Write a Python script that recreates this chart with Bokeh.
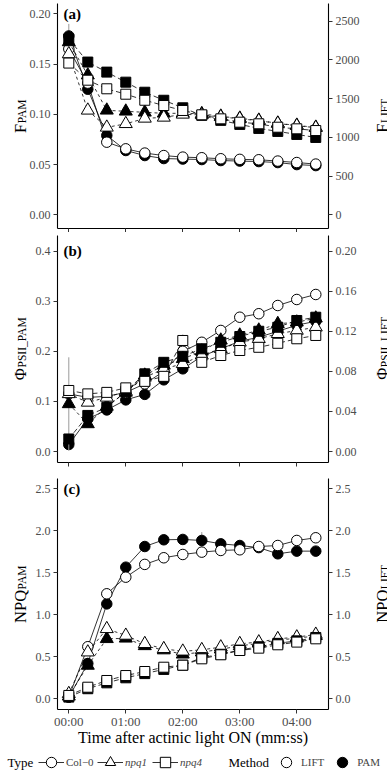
import numpy as np
from bokeh.plotting import figure
from bokeh.models import (Range1d, LinearAxis, FixedTicker, NumeralTickFormatter,
                          Label, Legend, LegendItem)
from bokeh.layouts import column
from bokeh.embed import file_html
from bokeh.resources import INLINE

# ---------------- data ----------------
time_s = [0, 20, 40, 60, 80, 100, 120, 140, 160, 180, 200, 220, 240, 260]
time_ticks = [0, 60, 120, 180, 240]
time_labels = ["00:00", "01:00", "02:00", "03:00", "04:00"]
types = ["Col-0", "npq1", "npq4"]
type_labels = ["Col\u22120", "npq1", "npq4"]
methods = ["LIFT", "PAM"]

# (a) F  (PAM on left axis, LIFT on right axis)
a_col0_pam = [0.178, 0.125, 0.079, 0.064, 0.059, 0.056, 0.0555, 0.055, 0.054, 0.0535, 0.053, 0.052, 0.050, 0.049]
a_npq1_pam = [0.172, 0.139, 0.104, 0.103, 0.102, 0.101, 0.101, 0.1005, 0.098, 0.096, 0.094, 0.091, 0.089, 0.087]
a_npq4_pam = [0.175, 0.152, 0.142, 0.132, 0.122, 0.114, 0.1065, 0.099, 0.094, 0.090, 0.086, 0.083, 0.080, 0.077]
a_col0_lift = [2141, 1700, 938, 852, 797, 765, 745, 737, 724, 716, 711, 694, 675, 655]
a_npq1_lift = [2076, 1349, 1129, 1175, 1245, 1258, 1297, 1290, 1265, 1240, 1215, 1180, 1150, 1125]
a_npq4_lift = [1959, 1738, 1627, 1557, 1479, 1411, 1347, 1291, 1239, 1196, 1175, 1131, 1110, 1088]
a_col0_pam_se = [0.012, 0, 0, 0, 0, 0, 0, 0, 0, 0, 0, 0, 0, 0]

# (b) PhiPSII
b_col0_pam = [0.014, 0.065, 0.083, 0.103, 0.114, 0.143, 0.165, 0.19, 0.205, 0.22, 0.228, 0.24, 0.252, 0.26]
b_npq1_pam = [0.095, 0.055, 0.09, 0.118, 0.152, 0.172, 0.185, 0.2, 0.222, 0.232, 0.242, 0.255, 0.258, 0.266]
b_npq4_pam = [0.025, 0.072, 0.088, 0.12, 0.155, 0.178, 0.19, 0.205, 0.218, 0.2295, 0.24, 0.248, 0.2615, 0.268]
b_col0_lift = [0.0575, 0.054, 0.055, 0.059, 0.0675, 0.08, 0.1, 0.109, 0.1208, 0.134, 0.1375, 0.1457, 0.1517, 0.1567]
b_npq1_lift = [0.0575, 0.049, 0.054, 0.06, 0.074, 0.0825, 0.0875, 0.096, 0.1025, 0.109, 0.1125, 0.1175, 0.1208, 0.124]
b_npq4_lift = [0.0609, 0.0575, 0.059, 0.0635, 0.07, 0.075, 0.1108, 0.089, 0.0958, 0.1008, 0.104, 0.108, 0.1125, 0.1158]
b_npq1_pam_se = [0.093, 0, 0, 0.01, 0, 0, 0, 0, 0, 0, 0, 0, 0, 0]
b_npq4_lift_se = [0, 0, 0, 0, 0, 0, 0.006, 0, 0, 0, 0, 0, 0, 0]

# (c) NPQ
c_col0_pam = [0.02, 0.42, 1.13, 1.567, 1.813, 1.893, 1.897, 1.885, 1.845, 1.825, 1.80, 1.726, 1.758, 1.758]
c_npq1_pam = [0.03, 0.397, 0.714, 0.72, 0.63, 0.58, 0.53, 0.555, 0.59, 0.63, 0.66, 0.70, 0.72, 0.75]
c_npq4_pam = [0.02, 0.12, 0.19, 0.25, 0.30, 0.35, 0.40, 0.49, 0.53, 0.58, 0.62, 0.66, 0.69, 0.73]
c_col0_lift = [0.02, 0.62, 1.25, 1.448, 1.60, 1.679, 1.718, 1.746, 1.766, 1.774, 1.813, 1.825, 1.885, 1.917]
c_npq1_lift = [0.06, 0.555, 0.833, 0.754, 0.655, 0.595, 0.565, 0.583, 0.615, 0.655, 0.675, 0.714, 0.734, 0.766]
c_npq4_lift = [0.04, 0.138, 0.218, 0.277, 0.325, 0.376, 0.40, 0.476, 0.524, 0.575, 0.603, 0.643, 0.675, 0.714]
c_col0_pam_se = [0, 0, 0, 0, 0, 0, 0, 0.1, 0, 0, 0, 0, 0, 0]

# axis ticks and panel value limits
a_left_ticks = [0.0, 0.05, 0.10, 0.15, 0.20]
a_right_ticks = [0, 500, 1000, 1500, 2000, 2500]
b_left_ticks = [0.0, 0.1, 0.2, 0.3, 0.4]
b_right_ticks = [0.0, 0.04, 0.08, 0.12, 0.16, 0.20]
c_ticks = [0.0, 0.5, 1.0, 1.5, 2.0, 2.5]
a_left_lim = (-0.0133, 0.210)
b_left_lim = (-0.021, 0.4311)
c_left_lim = (-0.127, 2.6226)
a_right_per_left = 12973.5     # F_LIFT units per F_PAM unit (secondary axis)
b_right_per_left = 0.5
c_right_per_left = 1.0

# ---------------- styling / layout ----------------
FONT = "Liberation Serif"
TICK_COL = "#4D4D4D"
W = 387
X_CANVAS = (-71.9, 335.5)        # time (s) at canvas left / right edge
T_LEFT, T_RIGHT = -11.9, 273.4   # time at panel left / right edge
TOPS = [0, 232, 470, 778]        # page rows of the three stacked figures

type_style = {
    "Col-0": dict(marker="circle", size=10.5, dash="solid"),
    "npq1": dict(marker="triangle", size=13, dash="3 3"),
    "npq4": dict(marker="square", size=10, dash="5 3"),
}
method_fill = {"LIFT": "white", "PAM": "black"}
NAN = [float("nan")]


def style_axis(ax, size="12px"):
    ax.axis_line_color = "black"
    ax.axis_line_width = 1.1
    ax.major_tick_line_color = "#333333"
    ax.major_tick_in = 0
    ax.major_tick_out = 4
    ax.minor_tick_line_color = None
    ax.major_label_text_font = FONT
    ax.major_label_text_font_size = size
    ax.major_label_text_color = TICK_COL
    ax.major_label_standoff = 3


def add_ytitle(p, main, sub, main_em, sub_em, fig_top, fig_h, center, x_main, x_sub):
    mw = main_em * 16.5
    sw = sub_em * 11.5
    c = center - fig_top
    y0 = fig_h - (c + (mw + sw) / 2)
    p.add_layout(Label(x=x_main, y=y0, x_units="screen", y_units="screen", text=main,
                       angle=np.pi / 2, text_font=FONT, text_font_size="16.5px",
                       text_color="black", text_align="left", text_baseline="alphabetic"))
    p.add_layout(Label(x=x_sub, y=y0 + mw + 0.5, x_units="screen", y_units="screen", text=sub,
                       angle=np.pi / 2, text_font=FONT, text_font_size="11.5px",
                       text_color="black", text_align="left", text_baseline="alphabetic"))


def make_panel(series, ses, top, bottom, zero_px, px_per_unit, left_lim, rpl,
               left_ticks, right_ticks, left_fmt, right_fmt, tag, titles, title_center, show_x):
    fig_h = bottom - top

    def val(page):
        return (zero_px - page) / px_per_unit

    left_canvas = (val(bottom), val(top))
    right_canvas = (left_canvas[0] * rpl, left_canvas[1] * rpl)
    left_b = (left_lim[0], min(left_lim[1], left_canvas[1]))
    right_b = (left_b[0] * rpl, left_b[1] * rpl)

    p = figure(width=W, height=fig_h, x_range=Range1d(*X_CANVAS),
               y_range=Range1d(*left_canvas), output_backend="svg", toolbar_location=None,
               min_border=0, x_axis_location=None, y_axis_location=None,
               outline_line_color=None, background_fill_color="white",
               border_fill_color="white")
    p.grid.visible = False
    p.extra_y_ranges = {"lift": Range1d(*right_canvas)}

    la = LinearAxis(fixed_location=T_LEFT, bounds=left_b,
                    ticker=FixedTicker(ticks=left_ticks),
                    formatter=NumeralTickFormatter(format=left_fmt))
    style_axis(la)
    p.add_layout(la, "left")

    ra = LinearAxis(y_range_name="lift", fixed_location=T_RIGHT, bounds=right_b,
                    ticker=FixedTicker(ticks=right_ticks),
                    formatter=NumeralTickFormatter(format=right_fmt))
    style_axis(ra)
    p.add_layout(ra, "right")

    xa = LinearAxis(fixed_location=left_b[0], bounds=(T_LEFT, T_RIGHT),
                    ticker=FixedTicker(ticks=time_ticks))
    style_axis(xa, "13px")
    if show_x:
        xa.major_label_overrides = {t: l for t, l in zip(time_ticks, time_labels)}
        xa.major_label_standoff = 1
        xa.axis_label = "Time after actinic light ON (mm:ss)"
        xa.axis_label_text_font = FONT
        xa.axis_label_text_font_size = "16px"
        xa.axis_label_text_font_style = "normal"
        xa.axis_label_text_color = "black"
        xa.axis_label_standoff = -4
    else:
        xa.major_label_text_color = None
        xa.major_label_text_font_size = "1px"
    p.add_layout(xa, "below")

    t = np.array(time_s, dtype=float)
    for tname in types:
        st = type_style[tname]
        for m in ["PAM", "LIFT"]:
            vals = np.array(series[(tname, m)], dtype=float)
            rname = "default" if m == "PAM" else "lift"
            se = ses.get((tname, m))
            if se is not None:
                se = np.array(se, dtype=float)
                mask = se > 0
                p.segment(x0=t[mask], x1=t[mask], y0=(vals - se)[mask], y1=(vals + se)[mask],
                          line_color="#9a9a9a", line_width=1, y_range_name=rname)
            p.line(t, vals, line_color="black", line_width=0.8, line_dash=st["dash"],
                   y_range_name=rname)
            p.scatter(t, vals, marker=st["marker"], size=st["size"],
                      fill_color=method_fill[m], line_color="black", line_width=1,
                      y_range_name=rname)

    p.add_layout(Label(x=63, x_units="screen", y=left_ticks[-1], y_units="data", text=tag,
                       text_font=FONT, text_font_style="bold", text_font_size="15px",
                       text_baseline="middle", text_color="black"))
    (lm, ls, lme, lse), (rm, rs, rme, rse) = titles
    add_ytitle(p, lm, ls, lme, lse, top, fig_h, title_center, 19.5, 21.5)
    add_ytitle(p, rm, rs, rme, rse, top, fig_h, title_center, 382, 384)
    return p


pa = make_panel(
    {("Col-0", "PAM"): a_col0_pam, ("npq1", "PAM"): a_npq1_pam, ("npq4", "PAM"): a_npq4_pam,
     ("Col-0", "LIFT"): a_col0_lift, ("npq1", "LIFT"): a_npq1_lift, ("npq4", "LIFT"): a_npq4_lift},
    {("Col-0", "PAM"): a_col0_pam_se}, TOPS[0], TOPS[1], 214.33, 1005.0, a_left_lim,
    a_right_per_left, a_left_ticks, a_right_ticks, "0.00", "0",
    "(a)", (("F", "PAM", 0.556, 2.167), ("F", "LIFT", 0.556, 2.111)), 115.5, False)

pb = make_panel(
    {("Col-0", "PAM"): b_col0_pam, ("npq1", "PAM"): b_npq1_pam, ("npq4", "PAM"): b_npq4_pam,
     ("Col-0", "LIFT"): b_col0_lift, ("npq1", "LIFT"): b_npq1_lift, ("npq4", "LIFT"): b_npq4_lift},
    {("npq1", "PAM"): b_npq1_pam_se, ("npq4", "LIFT"): b_npq4_lift_se}, TOPS[1], TOPS[2],
    451.0, 501.0, b_left_lim, b_right_per_left, b_left_ticks, b_right_ticks, "0.0", "0.00",
    "(b)", (("\u03a6", "PSII_PAM", 0.74, 4.445), ("\u03a6", "PSII_LIFT", 0.74, 4.389)), 348, False)

pc = make_panel(
    {("Col-0", "PAM"): c_col0_pam, ("npq1", "PAM"): c_npq1_pam, ("npq4", "PAM"): c_npq4_pam,
     ("Col-0", "LIFT"): c_col0_lift, ("npq1", "LIFT"): c_npq1_lift, ("npq4", "LIFT"): c_npq4_lift},
    {("Col-0", "PAM"): c_col0_pam_se}, TOPS[2], TOPS[3], 698.3, 84.0, c_left_lim,
    c_right_per_left, c_ticks, c_ticks, "0.0", "0.0",
    "(c)", (("NPQ", "PAM", 2.0, 2.167), ("NPQ", "LIFT", 2.0, 2.111)), 593.5, True)

# ---------------- legend (inside figure C, below the x axis title) ----------------
type_items = []
for tname, tlabel in zip(types, type_labels):
    st = type_style[tname]
    lr = pc.line(x=NAN, y=NAN, line_color="black", line_width=0.8)
    sr = pc.scatter(x=NAN, y=NAN, marker=st["marker"], fill_color="white",
                    line_color="black", line_width=1)
    type_items.append(LegendItem(label=tlabel, renderers=[lr, sr]))

method_items = []
for m in methods:
    sr = pc.scatter(x=NAN, y=NAN, marker="circle", fill_color=method_fill[m],
                    line_color="black", line_width=1)
    method_items.append(LegendItem(label=m, renderers=[sr]))

LEG_MID = TOPS[3] - 762  # px above figure C bottom


def mk_legend(items, x, italic=False):
    L = Legend(items=items, location=(x, LEG_MID - 13), orientation="horizontal",
               glyph_width=26, glyph_height=26, label_standoff=2, spacing=5,
               padding=0, margin=0, border_line_color=None, background_fill_alpha=0,
               label_text_font=FONT, label_text_font_size="11px",
               label_text_font_style="italic" if italic else "normal",
               label_height=26, label_width=10)
    pc.add_layout(L, "center")


mk_legend(type_items[:1], 38)
mk_legend(type_items[1:], 97, italic=True)
mk_legend(method_items, 273)
for txt, xx in (("Type", 7), ("Method", 228)):
    pc.add_layout(Label(x=xx, y=LEG_MID, x_units="screen", y_units="screen", text=txt,
                        text_font=FONT, text_font_size="13px", text_baseline="middle",
                        text_color="black"))

layout = column(pa, pb, pc, spacing=0)
open("out.html", "w").write(file_html(layout, INLINE))
